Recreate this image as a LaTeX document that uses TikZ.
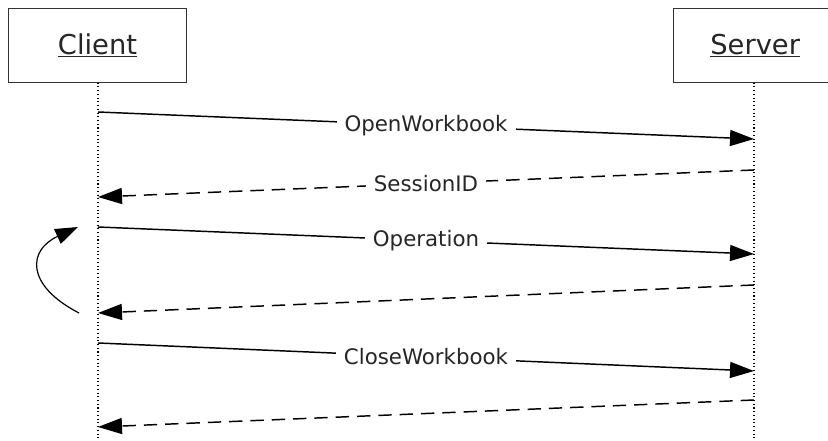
\documentclass[tikz,border=0pt]{standalone}
\usepackage{fontspec}
\setmainfont{DejaVu Sans}
\usetikzlibrary{arrows.meta}

\begin{document}
\begin{tikzpicture}[x=0.75pt,y=-0.75pt]

      \useasboundingbox (0,0) rectangle (828,441);

      % the two objects
      \begin{scope}[every node/.style={draw=black!80,thick,fill=white,text=black!85,
          minimum height=55pt,font=\fontsize{20.5}{24}\selectfont}]
        \node[minimum width=134pt] (client) at (97.5,45.5) {\underline{Client}};
        \node[minimum width=134pt,anchor=west,text width=110pt,align=left]
          (server) at (672.5,45.5) {\hspace*{16pt}\underline{Server}};
      \end{scope}

      % lifelines
      \coordinate (clientend) at (98,441);
      \coordinate (serverend) at (754,441);
      \draw[dotted,thick] (client.south -| clientend) -- (clientend);
      \draw[dotted,thick] (server.south -| serverend) -- (serverend);

      % message ends on the lifelines
      \foreach \n/\yc/\ys in {1/112/139,2/197/170,3/227/254,4/313/285,5/343/371,6/427/400}{
        \coordinate (c\n) at (98,\yc);
        \coordinate (s\n) at (754,\ys);
      }

      \begin{scope}[every path/.style={draw,line width=1.1pt,
          -{Triangle[length=18pt,width=12pt]}},
          every node/.style={fill=white,inner xsep=6pt,inner ysep=2pt,text=black!85,
          font=\fontsize{16}{19}\selectfont}]
        \draw (c1) -- node {OpenWorkbook} (s1);
        \draw[dash pattern=on 10pt off 6pt] (s2) -- node {SessionID} (c2);
        \draw (c3) -- node {Operation} (s3);
        \draw[dash pattern=on 10pt off 6pt] (s4) -- (c4);
        \draw (c5) -- node {CloseWorkbook} (s5);
        \draw[dash pattern=on 10pt off 6pt] (s6) -- (c6);
      \end{scope}

      % repeat loop
      \coordinate (loopfrom) at (79,313);
      \coordinate (loopto) at (78,227);
      \draw[line width=0.9pt,-{Triangle[length=17pt,width=12pt]}]
        (loopfrom) .. controls (25,285) and (28,250) .. (loopto);

    \end{tikzpicture}
\end{document}
